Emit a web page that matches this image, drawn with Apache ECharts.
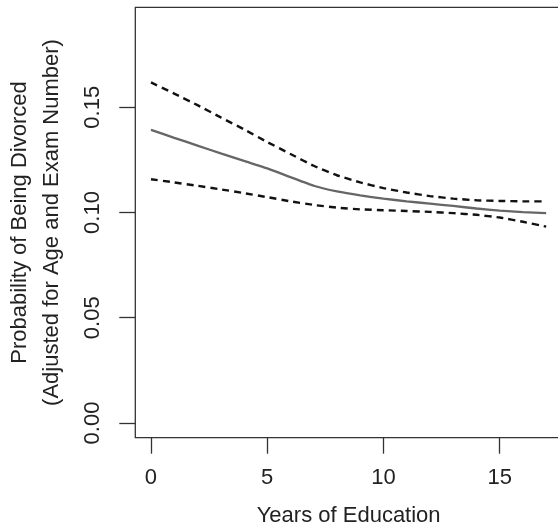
<!DOCTYPE html>
<html>
<head>
<meta charset="utf-8">
<script src="https://cdn.jsdelivr.net/npm/echarts@6/dist/echarts.min.js"></script>
<style>html,body{margin:0;padding:0;background:#fff;}#c{width:558px;height:528px;}</style>
</head>
<body>
<div id="c"></div>
<script>
const years = [0,1,2,3,4,5,6,7,8,9,10,11,12,13,14,15,16,17];
const estimate = [0.1393,0.1355,0.1318,0.1281,0.1245,0.1210,0.1168,0.1127,0.1100,0.1081,0.1066,0.1053,0.1042,0.1031,0.1019,0.1009,0.1002,0.0997];
const upperCI = [0.1618,0.1565,0.1510,0.1452,0.1395,0.1335,0.1278,0.1222,0.1177,0.1143,0.1116,0.1095,0.1078,0.1066,0.1058,0.1055,0.1053,0.1053];
const lowerCI = [0.1158,0.1143,0.1127,0.1110,0.1092,0.1073,0.1053,0.1036,0.1023,0.1015,0.1011,0.1007,0.1003,0.0997,0.0989,0.0976,0.0956,0.0933];
const xTicks = [0,5,10,15];
const yTicks = [0,0.05,0.10,0.15];
const yTickLabels = ['0.00','0.05','0.10','0.15'];

const FONT = "'Liberation Sans',Arial,sans-serif";
const FS = 22;
const pair = (ys) => years.map((x,i)=>[x, ys[i]]);

const chart = echarts.init(document.getElementById('c'), null, {renderer:'canvas'});
chart.setOption({
  animation:false,
  backgroundColor:'#ffffff',
  grid:{left:135.3, top:7.3, width:426.7, height:430.4, containLabel:false, outerBoundsMode:'none',
        show:true, borderColor:'#333', borderWidth:1.3, backgroundColor:'transparent'},
  xAxis:{
    type:'value', min:-0.675, max:17.68,
    splitLine:{show:false},
    axisLine:{show:false, onZero:false},
    axisTick:{show:true, customValues:xTicks, length:16, inside:false, lineStyle:{color:'#333', width:1.3}},
    axisLabel:{customValues:xTicks, margin:29.6, fontFamily:FONT, fontSize:FS, color:'#222', lineHeight:FS, formatter:(v)=>String(v)},
    name:'Years of Education', nameLocation:'middle', nameGap:67.3,
    nameTextStyle:{fontFamily:FONT, fontSize:FS, color:'#222', lineHeight:FS}
  },
  yAxis:{
    type:'value', min:-0.007, max:0.1975,
    splitLine:{show:false},
    axisLine:{show:false, onZero:false},
    axisTick:{show:true, customValues:yTicks, length:16, inside:false, lineStyle:{color:'#333', width:1.3}},
    axisLabel:{customValues:yTicks, rotate:90, margin:31.6, fontFamily:FONT, fontSize:FS, color:'#222', lineHeight:FS,
      formatter:(v)=>{const i=yTicks.findIndex(t=>Math.abs(t-v)<1e-9); return i>=0?yTickLabels[i]:v.toFixed(2);}},
    name:'Probability of Being Divorced\n(Adjusted for Age and Exam Number)', nameLocation:'middle', nameGap:67.8, nameRotate:90,
    nameTextStyle:{fontFamily:FONT, fontSize:FS, color:'#222', lineHeight:32, align:'center'}
  },
  series:[
    {type:'line', data:pair(upperCI), showSymbol:false, smooth:0.15, lineStyle:{color:'#111', width:2.4, type:[7,5]}},
    {type:'line', data:pair(lowerCI), showSymbol:false, smooth:0.15, lineStyle:{color:'#111', width:2.4, type:[7,5]}},
    {type:'line', data:pair(estimate), showSymbol:false, smooth:0.15, lineStyle:{color:'#666', width:2.3}}
  ]
});
</script>
</body>
</html>
